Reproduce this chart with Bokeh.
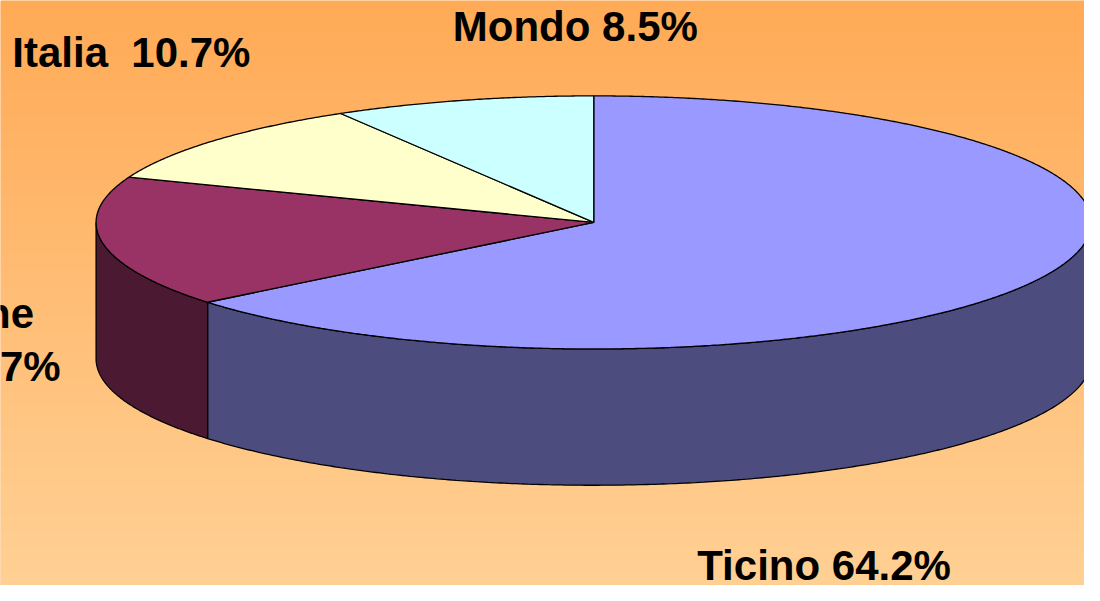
import numpy as np
from bokeh.plotting import figure
from bokeh.models import Range1d, ColumnDataSource
from bokeh.core.properties import value
from bokeh.embed import file_html
from bokeh.resources import INLINE

# ---- data ----
categories = ["Ticino", "Confederazione", "Italia", "Mondo"]
shares = [64.2, 16.7, 10.7, 8.5]
pct_labels = ["64.2%", "16.7%", "10.7%", "8.5%"]
top_colors = ["#9999FF", "#993366", "#FFFFCC", "#CCFFFF"]
side_colors = ["#4C4C7F", "#4C1933", "#7F7F66", "#667F7F"]

# ---- layout (reference pixel space) ----
W, H = 1100, 601
cx, cy, R, r, depth = 602.0, 228.0, 505.0, 130.0, 140.0

p = figure(width=1084, height=585, output_backend="svg", toolbar_location=None,
           x_range=Range1d(0, W), y_range=Range1d(H, 0), min_border=0)
p.axis.visible = False
p.grid.visible = False
p.outline_line_color = None
p.background_fill_color = "#FFBE78"
p.border_fill_color = "#FFBE78"

# gradient background as horizontal strips
n = 150
edges = np.linspace(0, H, n + 1)
c0 = np.array([255, 170, 86])
c1 = np.array([255, 208, 148])
cols = []
for i in range(n):
    t = i / (n - 1)
    c = (c0 * (1 - t) + c1 * t).round().astype(int)
    cols.append("#%02x%02x%02x" % tuple(c))
p.quad(left=0, right=W, top=edges[:-1], bottom=edges[1:] + 0.6, fill_color=cols,
       line_color=None)

# slice angles (clockwise from top)
total = sum(shares)
starts, ends = [], []
acc = 0.0
for s in shares:
    starts.append(acc / total * 360.0)
    acc += s
    ends.append(acc / total * 360.0)

def ex(th):
    return cx + R * np.sin(np.radians(th))

def ey(th):
    return cy - r * np.cos(np.radians(th))

# side walls (front half: 90..270 deg)
sxs, sys, scol = [], [], []
for a0, a1, col in zip(starts, ends, side_colors):
    lo, hi = max(a0, 90.0), min(a1, 270.0)
    if hi <= lo:
        continue
    th = np.linspace(lo, hi, 300)
    xs = np.concatenate([ex(th), ex(th[::-1])])
    ys = np.concatenate([ey(th), ey(th[::-1]) + depth])
    sxs.append(list(xs)); sys.append(list(ys)); scol.append(col)
p.patches(xs="xs", ys="ys", fill_color="c", line_color="black", line_width=1.3,
          source=ColumnDataSource(dict(xs=sxs, ys=sys, c=scol)))

# top faces
txs, tys = [], []
for a0, a1 in zip(starts, ends):
    th = np.linspace(a0, a1, max(20, int((a1 - a0) * 3)))
    txs.append([cx] + list(ex(th)) + [cx])
    tys.append([cy] + list(ey(th)) + [cy])
p.patches(xs="xs", ys="ys", fill_color="c", line_color="black", line_width=1.3,
          source=ColumnDataSource(dict(xs=txs, ys=tys, c=top_colors)))

# labels
font = value("Liberation Sans")
fs = value("42px")
dy = -14.5
nb = "\u00a0"
def label(x, y, t, align):
    p.text(x=[x], y=[y + dy], text=[t], text_font=font, text_font_size=fs,
           text_font_style="bold", text_color="black",
           text_baseline="alphabetic", text_align=align)

label(707, 595, categories[0] + nb + pct_labels[0], "left")
label(34, 336, categories[1], "right")
label(61, 390, pct_labels[1], "right")
label(12, 68, categories[2] + nb + nb + pct_labels[2], "left")
label(459, 41, categories[3] + nb + pct_labels[3], "left")

open("out.html", "w").write(file_html(p, INLINE))
